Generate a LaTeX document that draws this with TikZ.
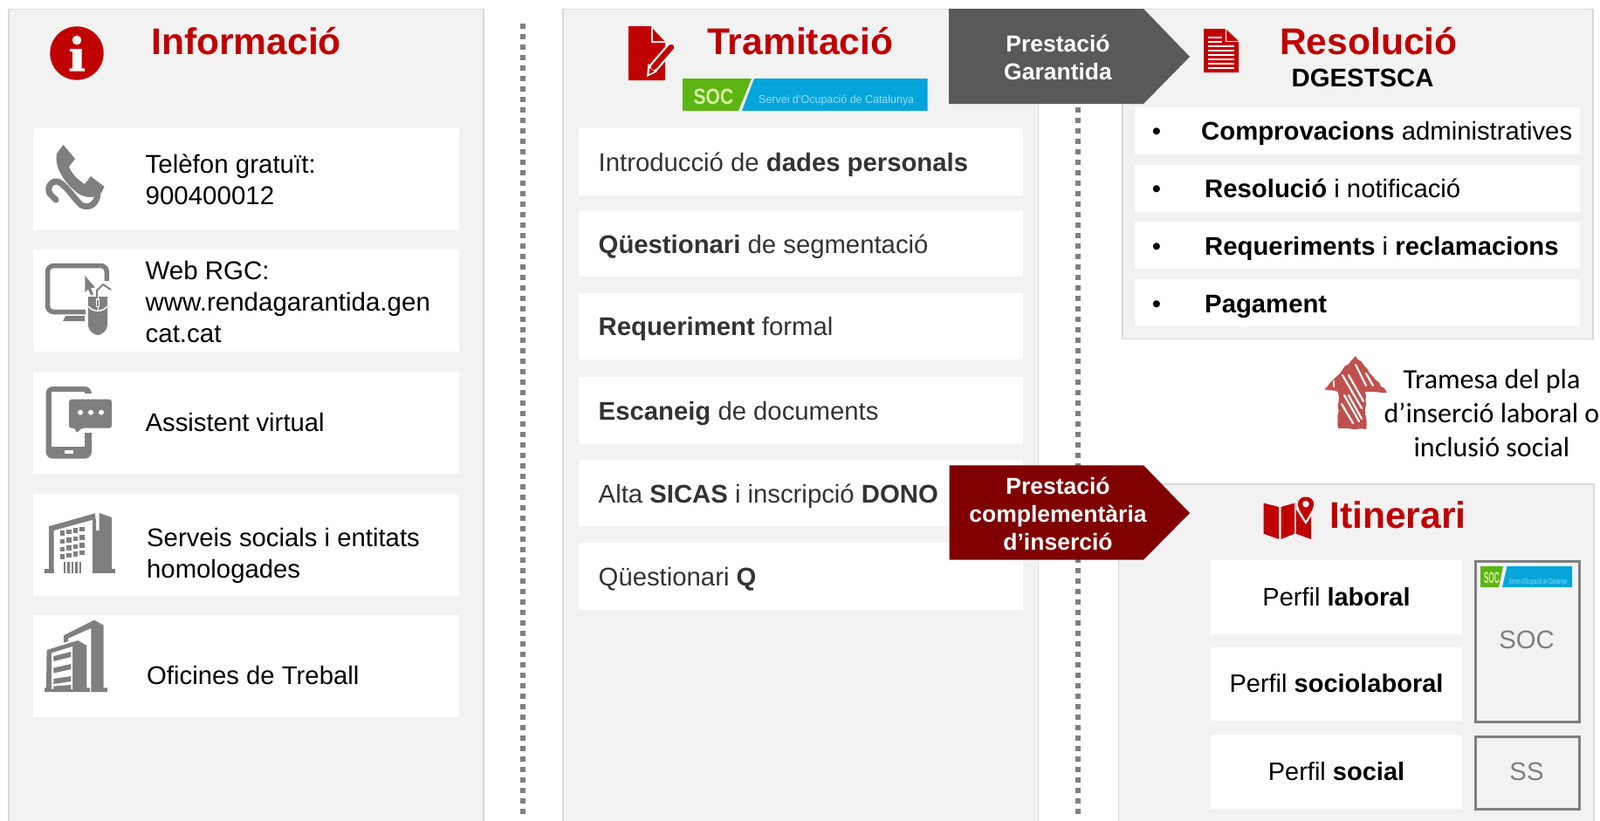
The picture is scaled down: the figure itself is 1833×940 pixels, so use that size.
\documentclass[tikz,border=0pt]{standalone}
\usepackage{fontspec}
\usepackage{graphicx}
\setmainfont{Liberation Sans}
\newfontfamily\calibri{Carlito}
\usetikzlibrary{decorations.pathmorphing}
\definecolor{panelgray}{HTML}{F2F2F2}
\definecolor{panelline}{HTML}{D9D9D9}
\definecolor{titlered}{HTML}{C00000}
\definecolor{icongray}{HTML}{7F7F7F}
\definecolor{dotgray}{HTML}{7F7F7F}
\definecolor{darkarrow}{HTML}{595959}
\definecolor{redarrow}{HTML}{800000}
\definecolor{sketchred}{HTML}{C0504D}
\definecolor{socgreen}{HTML}{5CB512}
\definecolor{socblue}{HTML}{04A5DB}
\definecolor{soctext}{HTML}{D8EFA8}
\definecolor{darktext}{HTML}{333333}
\tikzset{
  panel/.style={fill=panelgray,draw=panelline,line width=1.5pt},
  rowbox/.style={fill=white,draw=none,inner sep=0pt,anchor=north west},
  title/.style={font=\fontsize{42.6}{46}\selectfont\bfseries,text=titlered,inner sep=0pt,anchor=base west},
  lab/.style={font=\fontsize{29.3}{36}\selectfont,inner sep=0pt,anchor=base west,text=black},
  lab2/.style={font=\fontsize{29.3}{36}\selectfont,inner sep=0pt,anchor=base west,text=darktext},
  multi/.style={font=\fontsize{29.3}{36}\selectfont,inner sep=0pt,anchor=north west,align=left,text=black},
  arrowtext/.style={font=\fontsize{26.5}{32}\selectfont\bfseries,text=white,inner sep=0pt,align=center},
  centred/.style={font=\fontsize{29}{36}\selectfont,inner sep=0pt,anchor=base,text=black},
  greylab/.style={font=\fontsize{29.3}{36}\selectfont,inner sep=0pt,anchor=base,text=icongray},
  dots/.style={draw=dotgray,line width=6pt,dash pattern=on 6pt off 6pt},
  outlinebox/.style={draw=icongray,line width=3pt,fill=none,inner sep=0pt,anchor=north west},
  hatch/.style={draw=white,line width=2.2pt,line cap=round},
}
\begin{document}
\begin{tikzpicture}[x=1pt,y=-1pt]
\useasboundingbox (0,0) rectangle (1833,940);
\fill[white] (0,0) rectangle (1833,940);

% panels
\draw[panel] (10,10.5) rectangle (554,945);
\draw[panel] (645,10.5) rectangle (1189.5,945);
\draw[panel] (1286,10.5) rectangle (1825,388.5);
\draw[panel] (1281.5,555) rectangle (1826,945);

% dotted separators
\coordinate (d1a) at (599.3,27);
\coordinate (d1b) at (599.3,938);
\coordinate (d2a) at (1234.5,27);
\coordinate (d2b) at (1234.5,938);
\draw[dots] (d1a) -- (d1b);
\draw[dots] (d2a) -- (d2b);

% --- Informació
\fill[titlered] (88,61) circle (30.7);
\fill[white] (88,46) circle (5.3);
\fill[white] (80,56) -- (93.5,56) -- (93.5,78.3) -- (97,78.3) -- (97,81.7) -- (79.5,81.7) -- (79.5,78.3) -- (83,78.3) -- (83,59) -- (80,59) -- cycle;
\node[title] (tinfo) at (173,62) {Informació};

\node[rowbox,minimum width=488pt,minimum height=117pt] (i1) at (37.8,147) {};
\node[rowbox,minimum width=488pt,minimum height=117pt] (i2) at (37.8,286) {};
\node[rowbox,minimum width=488pt,minimum height=117pt] (i3) at (37.8,426) {};
\node[rowbox,minimum width=488pt,minimum height=117pt] (i4) at (37.8,566) {};
\node[rowbox,minimum width=488pt,minimum height=117pt] (i5) at (37.8,705) {};

\node[multi,font=\fontsize{29.5}{36}\selectfont] (it1) at (166.4,176.5) {Telèfon gratuït:\\900400012};
\node[multi,font=\fontsize{29.5}{36}\selectfont] (it2) at (166.4,298.5) {Web RGC:\\www.rendagarantida.gen\\cat.cat};
\node[lab] (it3) at (166.4,494.7) {Assistent virtual};
\node[multi] (it4) at (168,605.5) {Serveis socials i entitats\\homologades};
\node[lab] (it5) at (168,784) {Oficines de Treball};

% phone icon
\fill[icongray] (72.5,166) -- (86,182) -- (79,191) .. controls (82,199) and (89,206) .. (97,211) -- (104,202) -- (119.5,214) -- (116,221) .. controls (108,228) and (95,228) .. (85,218) .. controls (72,207) and (62,190) .. (65,176) -- cycle;
\draw[icongray,line width=7pt,line cap=round] (64,229) -- (57,222) .. controls (53,214) and (60,205) .. (68,209) .. controls (78,215) and (85,228) .. (93,235) .. controls (103,240) and (111,233) .. (112,222);

% computer icon
\draw[icongray,line width=5.5pt,rounded corners=7pt] (98,357.5) -- (54.5,357.5) -- (54.5,304.5) -- (122.3,304.5) -- (122.3,322);
\fill[icongray] (72,368) -- (75,362) -- (97,362) -- (97,368) -- cycle;
\fill[icongray] (101,340) -- (123,340) -- (123,373) .. controls (123,379) and (116,384) .. (112,384) .. controls (108,384) and (101,379) .. (101,373) -- cycle;
\draw[white,line width=1.5pt] (101.5,351) .. controls (105,358) and (119,358) .. (122.5,351);
\draw[white,line width=1pt] (112,340) -- (112,356);
\fill[white] (110,342) rectangle (114,352);
\fill[icongray] (111,344) rectangle (113,351);
\fill[icongray] (97.3,316) -- (109,329.5) -- (104,330) -- (107,337) -- (104,338.5) -- (101,331.5) -- (97.3,335) -- cycle;
\draw[icongray,line width=2pt] (111,342) -- (111,333) -- (118,326) -- (127,332);

% phone + chat icon
\fill[icongray,rounded corners=8pt] (52.5,443) rectangle (105,525.7);
\fill[white] (59,449) rectangle (97,511.7);
\fill[white] (97,451) rectangle (106,496);
\fill[white] (74,516) rectangle (84,520);
\fill[icongray,rounded corners=3pt] (79,457.7) -- (128,457.7) -- (128,490.7) -- (93,490.7) -- (87.5,497) -- (86.5,490.7) -- (79,490.7) -- cycle;
\fill[white] (92,472.7) circle (3) (104,472.7) circle (3) (116,472.7) circle (3);

% building 1
\fill[icongray] (51,651.7) rectangle (61.5,656.7);
\fill[icongray] (106,651.7) rectangle (132,656.7);
\fill[icongray] (56,603.3) -- (109,588.3) -- (109,595) -- (61.5,608) -- (61.5,656.7) -- (56,656.7) -- cycle;
\fill[icongray] (106,595.5) -- (110,594.5) -- (110,608) -- (113.6,608) -- (113.6,588) -- (128,593) -- (128,656.7) -- (106,656.7) -- cycle;
\foreach \r in {608.3,617.7,626.7,635}{
  \foreach \c/\xa/\xb in {0/68.5/74,1/76/81.5,2/83.5/89,3/91/97}{
    \fill[icongray] (\xa,\r-\c*1.5) rectangle (\xb,\r-\c*1.5+5.5);
  }
}
\foreach \xa in {72.5,77,81.5,86,90.5}{\fill[icongray] (\xa,644) rectangle (\xa+2.7,656.7);}

% building 2
\fill[icongray] (73,728.3) -- (108,710.7) -- (118.6,716.7) -- (118.6,788.3) -- (123,788.3) -- (123,793) -- (104.3,793) -- (104.3,720) -- (78,731.7) -- (78,735) -- (73,736.7) -- cycle;
\fill[icongray] (53.6,745) -- (89.3,734) -- (99.3,740) -- (99.3,788.3) -- (103,788.3) -- (103,793) -- (51,793) -- (51,788.3) -- (53,788.3) -- cycle;
\fill[white] (59,748.5) -- (83,741) -- (83,790) -- (59,790) -- cycle;
\fill[icongray] (59,790) rectangle (83,793);
\fill[icongray] (61.4,752) -- (81.4,747) -- (81.4,753) -- (61.4,758) -- cycle;
\fill[icongray] (61.4,765.5) -- (81.4,761) -- (81.4,767) -- (61.4,771.5) -- cycle;
\fill[icongray] (61.4,778) -- (81.4,775) -- (81.4,781) -- (61.4,784) -- cycle;
\fill[icongray] (61.4,786.5) -- (81.4,785) -- (81.4,790) -- (61.4,790) -- cycle;

% --- Tramitació
\fill[titlered] (720,30) -- (746,30) -- (746,49) -- (762,49) -- (762,92) -- (720,92) -- cycle;
\fill[titlered] (748,33) -- (748,47) -- (761,47) -- cycle;
\draw[white,line width=11pt,line cap=round] (749,77) -- (769,54);
\fill[white] (741,88) -- (742.5,73) -- (753,82) -- cycle;
\draw[titlered,line width=6.5pt,line cap=round] (749,77) -- (769,54);
\fill[titlered] (743.5,85) -- (744.5,78) -- (749.5,82) -- cycle;
\node[title] (ttram) at (810,62) {Tramitació};

% big SOC logo
\fill[socgreen] (782,90) -- (861,90) -- (846,127) -- (782,127) -- cycle;
\fill[socblue] (864,90) -- (1062.5,90) -- (1062.5,127) -- (850,127) -- cycle;
\node[inner sep=0pt,anchor=base west,text=soctext,font=\fontsize{25}{25}\selectfont\bfseries] (soc1) at (794.5,119) {\resizebox{45.5pt}{\height}{SOC}};
\node[inner sep=0pt,anchor=base west,text=white!60!socblue,font=\fontsize{13}{13}\selectfont] (soc1b) at (869,118) {\resizebox{178pt}{\height}{Servei d'Ocupació de Catalunya}};

\node[rowbox,minimum width=509pt,minimum height=77pt] (t1) at (663,147) {};
\node[rowbox,minimum width=509pt,minimum height=76.5pt] (t2) at (663,240.5) {};
\node[rowbox,minimum width=509pt,minimum height=76pt] (t3) at (663,335.5) {};
\node[rowbox,minimum width=509pt,minimum height=76.5pt] (t4) at (663,432) {};
\node[rowbox,minimum width=509pt,minimum height=76pt] (t5) at (663,527) {};
\node[rowbox,minimum width=509pt,minimum height=77pt] (t6) at (663,622) {};

\node[lab2] (tt1) at (685.5,196.7) {Introducció de \textbf{dades personals}};
\node[lab2] (tt2) at (685.5,290) {\textbf{Qüestionari} de segmentació};
\node[lab2] (tt3) at (685.5,384.5) {\textbf{Requeriment} formal};
\node[lab2] (tt4) at (685.5,481.5) {\textbf{Escaneig} de documents};
\node[lab2] (tt5) at (685.5,576) {Alta \textbf{SICAS} i inscripció \textbf{DONO}};
\node[lab2] (tt6) at (685.5,671.5) {Qüestionari \textbf{Q}};

% --- Resolució
\fill[titlered] (1379,33) -- (1404,33) -- (1419,47) -- (1419,83) -- (1379,83) -- cycle;
\draw[white,line width=1pt] (1404,33) -- (1404,47) -- (1419,47);
\foreach \yy in {43,48}{\draw[white,line width=1.3pt] (1384,\yy) -- (1400,\yy);}
\foreach \yy in {53,58,63,68,73,78}{\draw[white,line width=1.3pt] (1384,\yy) -- (1414,\yy);}
\node[title] (tres) at (1466,62) {Resolució};
\node[font=\fontsize{29.3}{36}\selectfont\bfseries,inner sep=0pt,anchor=base west,text=black] (tdg) at (1479.5,99) {DGESTSCA};

\node[rowbox,minimum width=510pt,minimum height=54pt] (r1) at (1300,123) {};
\node[rowbox,minimum width=510pt,minimum height=54pt] (r2) at (1300,189) {};
\node[rowbox,minimum width=510pt,minimum height=54pt] (r3) at (1300,254) {};
\node[rowbox,minimum width=510pt,minimum height=54pt] (r4) at (1300,320) {};
\node[lab,anchor=base] (b1) at (1325,160.7) {•};
\node[lab,anchor=base] (b2) at (1325,226.3) {•};
\node[lab,anchor=base] (b3) at (1325,292.4) {•};
\node[lab,anchor=base] (b4) at (1325,358.4) {•};
\node[lab] (rt1) at (1376,160.7) {\textbf{Comprovacions} administratives};
\node[lab] (rt2) at (1380,226.3) {\textbf{Resolució} i notificació};
\node[lab] (rt3) at (1380,292.4) {\textbf{Requeriments} i \textbf{reclamacions}};
\node[lab] (rt4) at (1380,358.4) {\textbf{Pagament}};

% --- sketched arrow and note
\fill[sketchred,decorate,decoration={random steps,segment length=5pt,amplitude=0.9pt}] (1553,408) -- (1589,450) -- (1564,449) -- (1565,492) -- (1533,491) -- (1533,449) -- (1517,446) -- cycle;
\draw[hatch] (1553,418) -- (1565,442);
\draw[hatch] (1565,428) -- (1573,442);
\draw[hatch] (1538,430) -- (1560,468);
\draw[hatch] (1545,430) -- (1562,460);
\draw[hatch] (1540,453) -- (1557,483);
\draw[hatch] (1537,463) -- (1550,485);
\draw[hatch] (1545,453) -- (1560,480);
\draw[hatch] (1528,437) -- (1528,443);
\node[font=\calibri\fontsize{32}{38.6}\selectfont,align=center,inner sep=0pt,anchor=north,text=black] (note) at (1709,423.5) {Tramesa del pla\\d’inserció laboral o\\inclusió social};

% --- Itinerari
\fill[titlered] (1447.5,576.6) -- (1465,581) -- (1465,618) -- (1447.5,611.7) -- cycle;
\fill[titlered] (1467.6,581) -- (1483,576.6) -- (1483,611.7) -- (1467.6,618) -- cycle;
\fill[titlered] (1484.6,576.6) -- (1502,581) -- (1502,618) -- (1484.6,611.7) -- cycle;
\fill[panelgray] (1496,601) -- (1485,584) -- (1485,569) -- (1507,569) -- (1507,584) -- cycle;
\fill[titlered] (1496,597) -- (1489,585) .. controls (1484,575) and (1489,569.5) .. (1496,569.5) .. controls (1503,569.5) and (1508,575) .. (1503,585) -- cycle;
\fill[panelgray] (1496,577.7) circle (3.8);
\node[title] (titin) at (1523,605.7) {Itinerari};

\node[rowbox,minimum width=288pt,minimum height=85pt] (p1) at (1387,641.8) {};
\node[rowbox,minimum width=288pt,minimum height=84.5pt] (p2) at (1387,741.5) {};
\node[rowbox,minimum width=288pt,minimum height=85pt] (p3) at (1387,842) {};
\node[centred] (pt1) at (1531,694.5) {Perfil \textbf{laboral}};
\node[centred] (pt2) at (1531,793.4) {Perfil \textbf{sociolaboral}};
\node[centred] (pt3) at (1531,894.4) {Perfil \textbf{social}};

\node[outlinebox,minimum width=119pt,minimum height=184pt] (bsoc) at (1689,641.5) {};
\node[outlinebox,minimum width=119pt,minimum height=83pt] (bss) at (1689,843) {};
\fill[socgreen] (1696,649) -- (1722,649) -- (1717,673) -- (1696,673) -- cycle;
\fill[socblue] (1726.5,649) -- (1801,649) -- (1801,673) -- (1721,673) -- cycle;
\node[inner sep=0pt,anchor=base west,text=soctext,font=\fontsize{18}{18}\selectfont\bfseries] (soc2) at (1700,668) {\resizebox{17.4pt}{\height}{SOC}};
\node[inner sep=0pt,anchor=base west,text=white!60!socblue,font=\fontsize{9}{9}\selectfont] (soc2b) at (1728.7,669) {\resizebox{66pt}{\height}{Servei d'Ocupació de Catalunya}};
\node[greylab] (bsoct) at (1749,743.5) {SOC};
\node[greylab] (bsst) at (1749,894.5) {SS};

% --- arrows on top
\fill[darkarrow] (1087,10) -- (1310,10) -- (1363,65) -- (1310,119) -- (1087,119) -- cycle;
\node[arrowtext] (a1) at (1212,65.5) {Prestació\\Garantida};
\fill[redarrow] (1087.7,533.3) -- (1310,533.3) -- (1363,588) -- (1310,641.7) -- (1087.7,641.7) -- cycle;
\node[arrowtext] (a2) at (1212,588.5) {Prestació\\complementària\\d’inserció};
\end{tikzpicture}
\end{document}
